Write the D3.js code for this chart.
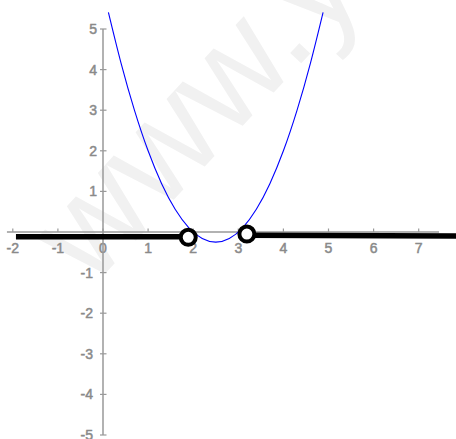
<!DOCTYPE html>
<html>
<head>
<meta charset="utf-8">
<script src="https://cdn.jsdelivr.net/npm/d3@7"></script>
<style>
  html, body { margin: 0; padding: 0; background: #fff; }
  svg { display: block; }
</style>
</head>
<body>
<svg id="chart" width="456" height="439"></svg>
<script>
// values
var xTicks = [-2, -1, 0, 1, 2, 3, 4, 5, 6, 7];
var yTicks = [-5, -4, -3, -2, -1, 1, 2, 3, 4, 5];

var curveX = [0.12, 0.4, 0.7, 1.0, 1.3, 1.6, 1.9, 2.2, 2.5, 2.8, 3.1, 3.4, 3.7, 4.0, 4.3, 4.6, 4.88];
var curveY = [5.41, 4.16, 2.99, 2.0, 1.19, 0.56, 0.11, -0.16, -0.25, -0.16, 0.11, 0.56, 1.19, 2.0, 2.99, 4.16, 5.41];

var leftRay = [[-1.93, -0.12], [1.89, -0.12]];
var rightRay = [[3.19, -0.08], [8.0, -0.1]];
var openPoints = [[1.89, -0.13], [3.19, -0.05]];

var watermark = ['www.', 'y'];

function solutionChart(id) {

  var svg = d3.select('#' + id);

  var x = d3.scaleLinear().domain([-2, 7]).range([12.8, 418.7]);
  var y = d3.scaleLinear().domain([-5, 5]).range([435, 29]);

  // faint watermark behind everything
  svg.append('g')
      .attr('font-family', 'Liberation Sans, Arial, sans-serif')
      .attr('font-size', 140)
      .attr('fill', '#f1f1f1')
    .selectAll('text')
    .data(watermark)
    .enter().append('text')
      .attr('transform', 'translate(319,44) rotate(-47)')
      .attr('text-anchor', function(d, i) { return i === 0 ? 'end' : 'start'; })
      .text(function(d) { return d; });

  var axisColor = '#999';
  var labelFont = 'Liberation Sans, Arial, sans-serif';

  // x axis
  svg.append('line')
      .attr('x1', x(-2.13)).attr('x2', x(7.45))
      .attr('y1', y(0)).attr('y2', y(0))
      .attr('stroke', axisColor)
      .attr('stroke-width', 1.5);

  svg.append('g')
    .selectAll('line')
    .data(xTicks)
    .enter().append('line')
      .attr('x1', function(d) { return x(d); })
      .attr('x2', function(d) { return x(d); })
      .attr('y1', y(0) - 3.5)
      .attr('y2', y(0))
      .attr('stroke', axisColor)
      .attr('stroke-width', 1.2);

  svg.append('g')
      .attr('font-family', labelFont)
      .attr('font-size', 14)
      .attr('fill', '#8a8a8a')
      .attr('stroke', '#8a8a8a')
      .attr('stroke-width', 0.5)
      .attr('text-anchor', 'middle')
    .selectAll('text')
    .data(xTicks)
    .enter().append('text')
      .attr('x', function(d) { return x(d); })
      .attr('y', y(0) + 20.5)
      .text(function(d) { return d; });

  // y axis
  svg.append('line')
      .attr('x1', x(0)).attr('x2', x(0))
      .attr('y1', y(5)).attr('y2', y(-5))
      .attr('stroke', axisColor)
      .attr('stroke-width', 1.5);

  svg.append('g')
    .selectAll('line')
    .data(yTicks)
    .enter().append('line')
      .attr('x1', x(0) - 3)
      .attr('x2', x(0) + 3.5)
      .attr('y1', function(d) { return y(d); })
      .attr('y2', function(d) { return y(d); })
      .attr('stroke', axisColor)
      .attr('stroke-width', 1.2);

  svg.append('g')
      .attr('font-family', labelFont)
      .attr('font-size', 14)
      .attr('fill', '#8a8a8a')
      .attr('stroke', '#8a8a8a')
      .attr('stroke-width', 0.5)
      .attr('text-anchor', 'end')
    .selectAll('text')
    .data(yTicks)
    .enter().append('text')
      .attr('x', function(d) { return d < 0 ? x(0) - 10 : x(0) - 6; })
      .attr('y', function(d) { return y(d); })
      .attr('dy', '0.36em')
      .text(function(d) { return d; });

  // parabola
  var line = d3.line()
      .x(function(d) { return x(d[0]); })
      .y(function(d) { return y(d[1]); })
      .curve(d3.curveNatural);

  svg.append('path')
      .datum(curveX.map(function(v, i) { return [v, curveY[i]]; }))
      .attr('d', line)
      .attr('fill', 'none')
      .attr('stroke', '#0000ff')
      .attr('stroke-width', 1.1);

  // solution rays
  var ray = d3.line()
      .x(function(d) { return x(d[0]); })
      .y(function(d) { return y(d[1]); });

  svg.append('g')
    .selectAll('path')
    .data([leftRay, rightRay])
    .enter().append('path')
      .attr('d', ray)
      .attr('fill', 'none')
      .attr('stroke', '#000')
      .attr('stroke-width', 5.5);

  svg.append('g')
    .selectAll('circle')
    .data(openPoints)
    .enter().append('circle')
      .attr('cx', function(d) { return x(d[0]); })
      .attr('cy', function(d) { return y(d[1]); })
      .attr('r', 7.5)
      .attr('fill', '#fff')
      .attr('stroke', '#000')
      .attr('stroke-width', 4);
}

solutionChart('chart');
</script>
</body>
</html>
